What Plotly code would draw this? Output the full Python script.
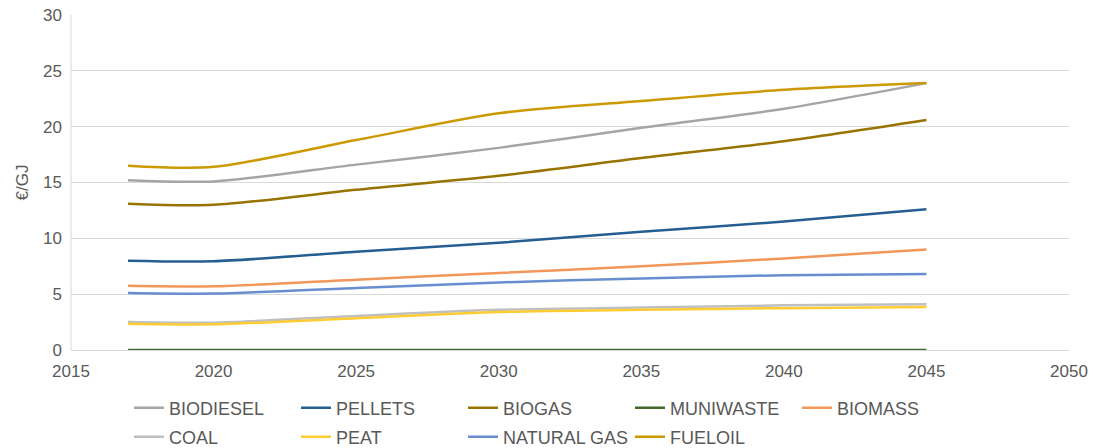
import plotly.graph_objects as go

years = [2017, 2020, 2025, 2030, 2035, 2040, 2045]
biodiesel = [15.2, 15.1, 16.6, 18.1, 19.9, 21.6, 23.9]
pellets = [8.0, 7.95, 8.8, 9.6, 10.6, 11.5, 12.6]
biogas = [13.1, 13.0, 14.35, 15.6, 17.2, 18.7, 20.6]
muniwaste = [0, 0, 0, 0, 0, 0, 0]
biomass = [5.75, 5.7, 6.3, 6.9, 7.5, 8.2, 9.0]
coal = [2.5, 2.45, 3.05, 3.6, 3.8, 4.0, 4.1]
peat = [2.35, 2.3, 2.85, 3.4, 3.6, 3.75, 3.85]
natural_gas = [5.1, 5.05, 5.55, 6.05, 6.4, 6.7, 6.8]
fueloil = [16.5, 16.4, 18.8, 21.2, 22.3, 23.3, 23.9]

x_ticks = [2015, 2020, 2025, 2030, 2035, 2040, 2045, 2050]
y_ticks = [0, 5, 10, 15, 20, 25, 30]

series = [
    ("BIODIESEL", biodiesel, "#A5A5A5", "legend"),
    ("PELLETS", pellets, "#255E91", "legend"),
    ("BIOGAS", biogas, "#997300", "legend"),
    ("MUNIWASTE", muniwaste, "#43682B", "legend"),
    ("BIOMASS", biomass, "#F1975A", "legend"),
    ("COAL", coal, "#BFBFBF", "legend2"),
    ("PEAT", peat, "#FFCD33", "legend2"),
    ("NATURAL GAS", natural_gas, "#698ED0", "legend2"),
    ("FUELOIL", fueloil, "#CC9A00", "legend2"),
]

FONT = "Liberation Sans, Arial, sans-serif"
GREY = "#595959"
W, H = 1093, 448

fig = go.Figure()
for name, vals, color, leg in series:
    fig.add_trace(go.Scatter(
        x=years, y=vals, name=name, mode="lines",
        line=dict(color=color, width=2.5, shape="spline", smoothing=0.8),
        legend=leg,
    ))

legend_common = dict(
    orientation="h", xanchor="left", yanchor="middle",
    xref="container", yref="container",
    entrywidth=122, entrywidthmode="pixels",
    font=dict(family=FONT, size=18, color=GREY),
    bgcolor="rgba(0,0,0,0)", itemwidth=30,
    itemclick=False, itemdoubleclick=False,
)

fig.update_layout(
    width=W, height=H,
    margin=dict(l=71, r=24, t=15, b=98, autoexpand=False),
    paper_bgcolor="white", plot_bgcolor="white",
    font=dict(family=FONT, size=17, color=GREY),
    showlegend=True,
    legend=dict(x=129 / W, y=1 - 408 / H, **legend_common),
    legend2=dict(x=129 / W, y=1 - 437 / H, **legend_common),
    xaxis=dict(
        range=[2015, 2050], tickmode="array", tickvals=x_ticks,
        showgrid=False, zeroline=False, automargin=False,
        showline=True, linecolor="#D9D9D9", linewidth=1,
        ticks="", ticklabelstandoff=6,
        tickfont=dict(family=FONT, size=17, color=GREY),
        fixedrange=True,
    ),
    yaxis=dict(
        range=[0, 30], tickmode="array", tickvals=y_ticks,
        showgrid=True, gridcolor="#D9D9D9", gridwidth=1,
        zeroline=False, showline=False, automargin=False,
        ticks="", ticklabelstandoff=8,
        tickfont=dict(family=FONT, size=17, color=GREY),
        fixedrange=True,
    ),
    annotations=[dict(
        text="€/GJ", xref="paper", yref="paper",
        x=(22 - 71) / 998, y=0.5, xanchor="center", yanchor="middle",
        textangle=-90, showarrow=False,
        font=dict(family=FONT, size=17, color=GREY),
    )],
    shapes=[dict(type="line", xref="paper", yref="paper", x0=0, x1=0, y0=0, y1=1,
                 line=dict(color="#D9D9D9", width=1), layer="below")],
)

fig.write_html(
    "out.html",
    config={"displayModeBar": False},
    post_script="document.body.style.margin='0';document.body.style.padding='0';"
                "document.body.style.overflow='hidden';",
)
